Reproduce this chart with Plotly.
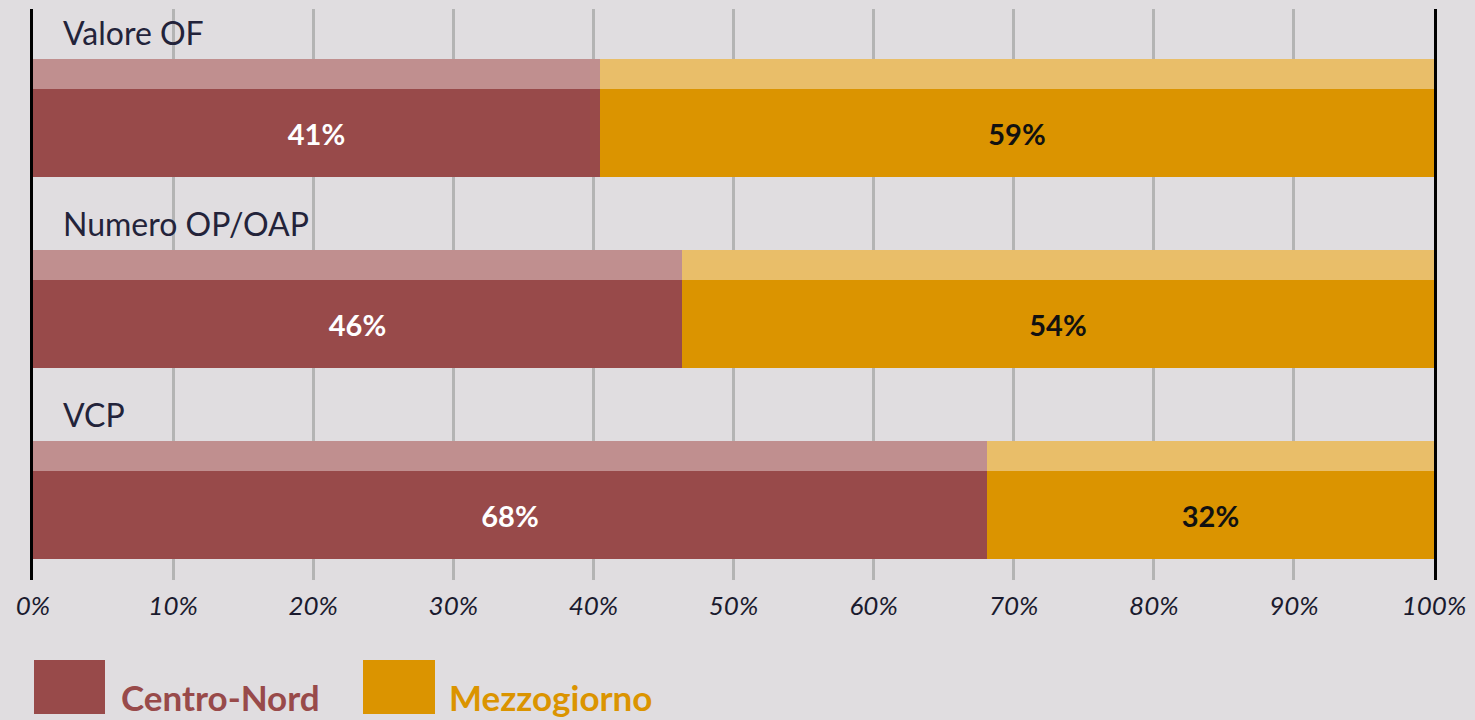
import plotly.graph_objects as go

categories = ["Valore OF", "Numero OP/OAP", "VCP"]
centro_nord = [40.5, 46.3, 68.1]
mezzogiorno = [59.5, 53.7, 31.9]
centro_nord_labels = ["41%", "46%", "68%"]
mezzogiorno_labels = ["59%", "54%", "32%"]
tick_vals = [0, 10, 20, 30, 40, 50, 60, 70, 80, 90, 100]
tick_text = ["0%", "10%", "20%", "30%", "40%", "50%", "60%", "70%", "80%", "90%", "100%"]

BG = "#e0dde0"
RED = "#984a4a"
RED_LIGHT = "#c08f8f"
ORANGE = "#db9400"
ORANGE_LIGHT = "#e9be69"

pos = list(range(len(categories)))
strip_pos = [p - 0.309 for p in pos]
label_pos = [p - 0.524 for p in pos]

fig = go.Figure()
# main bars
fig.add_trace(go.Bar(y=pos, x=centro_nord, orientation="h", width=0.461,
                     marker=dict(color=RED, line=dict(width=0)),
                     text=centro_nord_labels, textposition="inside",
                     insidetextanchor="middle",
                     textfont=dict(family="Lato", size=29, color="white", weight="bold"),
                     name="Centro-Nord", showlegend=False, hoverinfo="skip"))
fig.add_trace(go.Bar(y=pos, x=mezzogiorno, base=centro_nord, orientation="h", width=0.461,
                     marker=dict(color=ORANGE, line=dict(width=0)),
                     text=mezzogiorno_labels, textposition="inside",
                     insidetextanchor="middle",
                     textfont=dict(family="Lato", size=29, color="#111", weight="bold"),
                     name="Mezzogiorno", showlegend=False, hoverinfo="skip"))
# light top strips
fig.add_trace(go.Bar(y=strip_pos, x=centro_nord, orientation="h", width=0.157,
                     marker=dict(color=RED_LIGHT, line=dict(width=0)),
                     showlegend=False, hoverinfo="skip"))
fig.add_trace(go.Bar(y=strip_pos, x=mezzogiorno, base=centro_nord, orientation="h", width=0.157,
                     marker=dict(color=ORANGE_LIGHT, line=dict(width=0)),
                     showlegend=False, hoverinfo="skip"))

annotations = []
for c, ly in zip(categories, label_pos):
    annotations.append(dict(x=2.0, y=ly, xref="x", yref="y", text=c, showarrow=False,
                            xanchor="left", yanchor="middle",
                            font=dict(family="Lato", size=32, color="#23233a")))

# legend
legend_items = [("Centro-Nord", RED, 34, 105, 119), ("Mezzogiorno", ORANGE, 363, 435, 447)]
shapes = []
def px_x(p):
    return (p - 33) / 1401
def px_y(p):
    return (580 - p) / 571
for name, col, x0, x1, tx in legend_items:
    shapes.append(dict(type="rect", xref="paper", yref="paper", x0=px_x(x0), x1=px_x(x1),
                       y0=px_y(714), y1=px_y(660), fillcolor=col, line=dict(width=0)))
    annotations.append(dict(x=px_x(tx), y=px_y(697), xref="paper", yref="paper", text=name,
                            showarrow=False, xanchor="left", yanchor="middle",
                            font=dict(family="Lato", size=35, color=col, weight="bold")))

fig.update_layout(
    width=1475, height=720,
    margin=dict(l=33, r=41, t=9, b=140),
    paper_bgcolor=BG, plot_bgcolor=BG,
    barmode="overlay", bargap=0,
    showlegend=False,
    annotations=annotations, shapes=shapes,
    xaxis=dict(range=[0, 100], tickvals=tick_vals, ticktext=tick_text,
               showgrid=True, gridcolor="#b4b4b4", gridwidth=2.5, zeroline=False,
               ticks="", ticklabelstandoff=8, showline=False,
               tickfont=dict(family="Lato", size=26, color="#1a1a2e", style="italic")),
    yaxis=dict(range=[2.340, -0.649], showgrid=False, zeroline=False,
               showticklabels=False, showline=True, linecolor="black", linewidth=3, mirror=True),
)

fig.write_html("out.html", config={"displayModeBar": False},
               post_script="document.body.style.margin='0';document.body.style.background='" + BG + "';")
